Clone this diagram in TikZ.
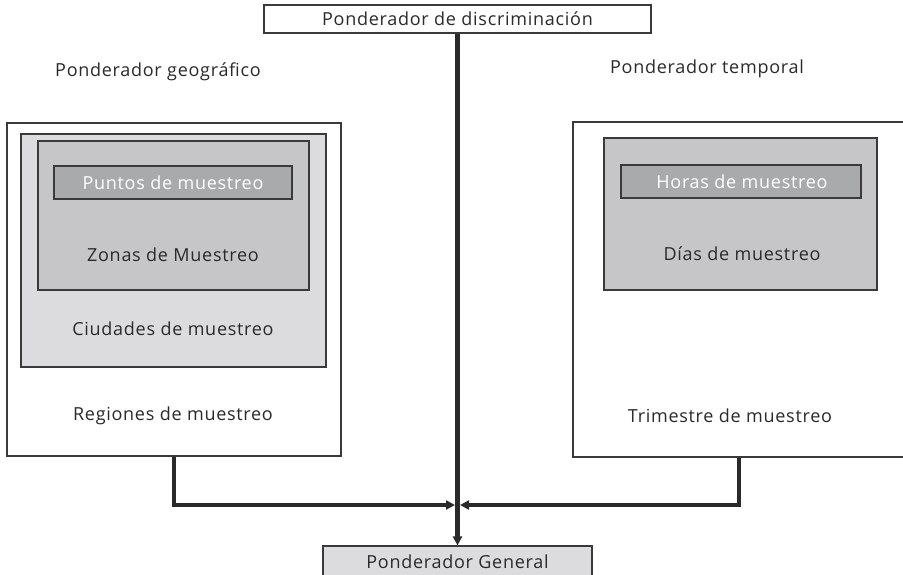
\documentclass[tikz,border=0pt]{standalone}
\usepackage{fontspec}
\setmainfont{Open Sans}[LetterSpace=4]
\usetikzlibrary{arrows.meta}
\definecolor{rim}{HTML}{3A3A3C}
\definecolor{grisA}{HTML}{DCDCDE}
\definecolor{grisB}{HTML}{C6C6C8}
\definecolor{grisC}{HTML}{A9AAAC}
\definecolor{tinta}{HTML}{2A2A2A}
\tikzstyle{caja} = [rectangle, draw=rim, line width=1.2pt, fill=white, inner sep=0pt]
\tikzstyle{etiqueta} = [font=\fontsize{18}{21}\selectfont, text=tinta, inner sep=0pt]
\tikzstyle{arrow} = [line width=4.5pt, draw=tinta, -{Triangle[length=9pt,width=9pt]}]

\begin{document}
\begin{tikzpicture}[x=1pt, y=-1pt]
\useasboundingbox (0,0) rectangle (903,575);

% ponderador geografico
\node (regiones) [caja, minimum width=334pt, minimum height=333pt] at (174,289.5) {};
\node (ciudades) [caja, fill=grisA, minimum width=305pt, minimum height=233pt] at (173.5,250.5) {};
\node (zonas) [caja, fill=grisB, minimum width=271pt, minimum height=149pt] at (173.5,215.5) {};
\node (puntos) [caja, fill=grisC, minimum width=238pt, minimum height=33pt] at (173,182.5) {};
\node (puntosTxt) [etiqueta, text=white] at (173,182.5) {Puntos de muestreo};
\node (zonasTxt) [etiqueta] at (173,255) {Zonas de Muestreo};
\node (ciudadesTxt) [etiqueta] at (173,329) {Ciudades de muestreo};
\node (regionesTxt) [etiqueta] at (173,416) {Regiones de muestreo};
\node (geo) [etiqueta] at (158,72) {Ponderador geográfico};

% ponderador temporal
\node (trimestre) [caja, minimum width=332pt, minimum height=335pt] at (739,289.5) {};
\node (dias) [caja, fill=grisB, minimum width=273pt, minimum height=152pt] at (740.5,214) {};
\node (horas) [caja, fill=grisC, minimum width=240pt, minimum height=33pt] at (741,181.5) {};
\node (horasTxt) [etiqueta, text=white] at (742,182) {Horas de muestreo};
\node (diasTxt) [etiqueta] at (742,254) {Días de muestreo};
\node (trimestreTxt) [etiqueta] at (730,416) {Trimestre de muestreo};
\node (temp) [etiqueta] at (707,69) {Ponderador temporal};

% discriminacion y general
\node (disc) [caja, minimum width=387pt, minimum height=28pt] at (457.5,19) {};
\node (discTxt) [etiqueta] at (457.5,19) {Ponderador de discriminación};
\node (general) [caja, fill=grisA, minimum width=269pt, minimum height=34pt] at (457.5,563) {};
\node (generalTxt) [etiqueta] at (457.5,562) {Ponderador General};

\coordinate (jl) at (455,505);
\coordinate (jr) at (460,505);

\draw [arrow] (disc.south) -- (general.north);
\draw [arrow] (regiones.south) |- (jl);
\draw [arrow] (trimestre.south) |- (jr);

\end{tikzpicture}
\end{document}
